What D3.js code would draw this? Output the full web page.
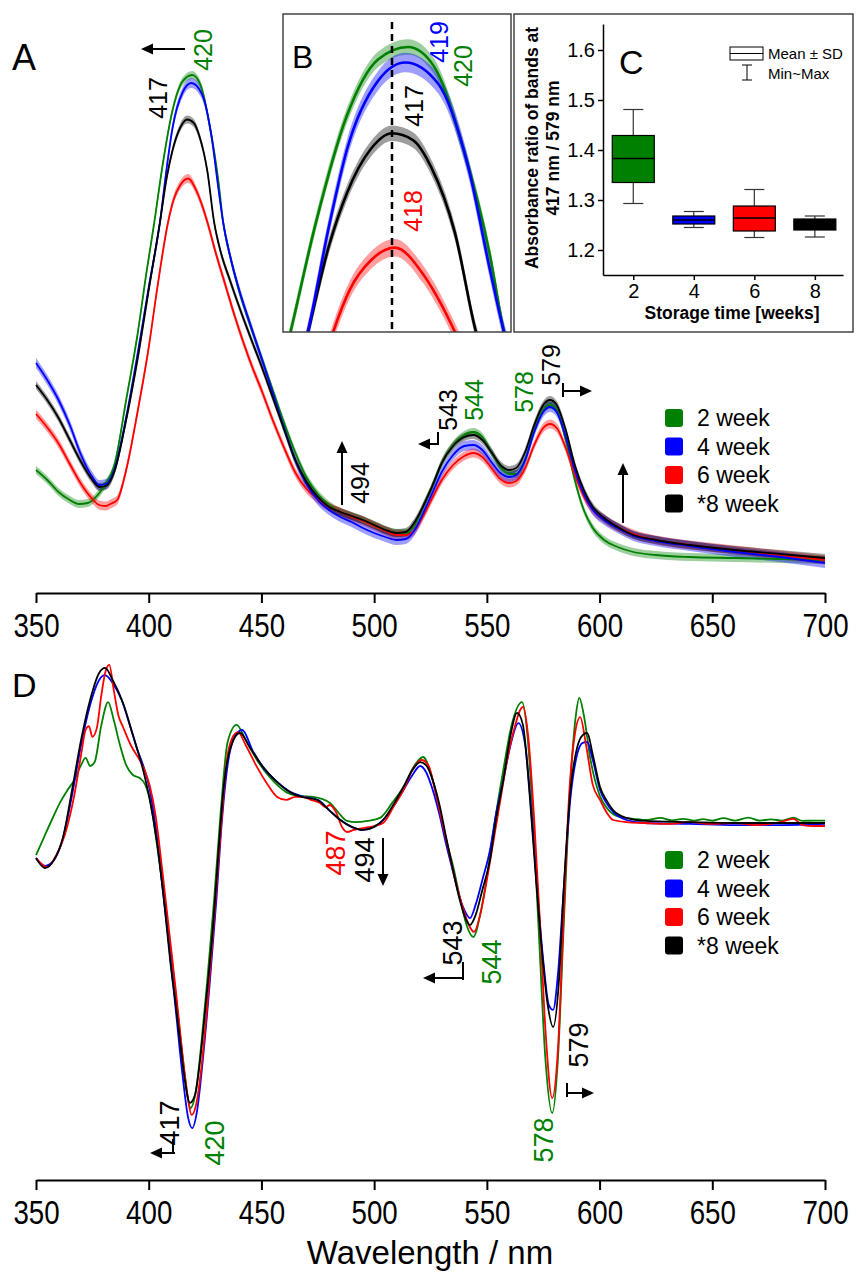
<!DOCTYPE html>
<html><head><meta charset="utf-8">
<script src="https://cdn.jsdelivr.net/npm/d3@7"></script>
<style>
body{margin:0;background:#fff}
svg{display:block}
text{font-family:'Liberation Sans',Arial,sans-serif}
</style>
</head><body>
<svg id="chart" width="856" height="1275"></svg>
<script>
// ---------- DATA ----------
const seriesNames = ["2 week","4 week","6 week","*8 week"];
const seriesColors = ["#008000","#0000ff","#ff0000","#000000"];
const bandColors = ["rgba(0,128,0,0.38)","rgba(0,0,255,0.38)","rgba(255,0,0,0.38)","rgba(0,0,0,0.38)"];
const xTicks = [350,400,450,500,550,600,650,700];
const xMinorTicks = [375,425,475,525,575,625,675];

// Panel A: mean absorbance spectra [wavelength nm, absorbance a.u.]
const a2wk = [[350,.260],[355,.240],[360,.216],[365,.200],[369,.192],[373,.194],[377,.208],[380,.226],[385,.274],[390,.400],[395,.530],[399,.655],[402.5,.756],[406,.865],[410.5,.978],[415,1.037],[419.3,1.050],[423,1.030],[427,.950],[431,.835],[433,.756],[436,.690],[440,.620],[445,.550],[450,.485],[455,.420],[460,.355],[465,.295],[470,.245],[475,.212],[480,.190],[485,.176],[490,.168],[495,.160],[500,.150],[505,.140],[510,.134],[514,.134],[518,.150],[522,.190],[526,.230],[530,.274],[535,.310],[540,.330],[544,.336],[548,.326],[552,.296],[556,.266],[560,.252],[563,.252],[567,.280],[571,.340],[575,.380],[578,.390],[581,.380],[585,.320],[589,.240],[593,.180],[597,.144],[602,.120],[608,.106],[615,.096],[625,.090],[640,.086],[660,.084],[680,.082],[700,.080]];
const a4wk = [[350,.474],[355,.440],[360,.400],[365,.350],[370,.290],[375,.246],[378,.230],[381,.232],[385,.264],[390,.365],[395,.490],[400,.625],[405,.756],[408,.865],[410.6,.945],[415,1.015],[418.9,1.034],[423.6,1.012],[427.9,.926],[431,.820],[433,.756],[436,.690],[440,.622],[445,.552],[450,.484],[455,.415],[460,.345],[465,.280],[470,.232],[475,.200],[480,.180],[485,.166],[490,.156],[495,.144],[500,.134],[505,.126],[510,.120],[514,.122],[518,.140],[522,.176],[526,.216],[530,.256],[535,.290],[540,.308],[544,.310],[548,.300],[552,.276],[556,.254],[560,.246],[563,.250],[567,.280],[571,.336],[575,.376],[578,.386],[581,.376],[585,.326],[589,.260],[593,.212],[597,.180],[602,.160],[608,.144],[615,.128],[625,.118],[640,.108],[660,.096],[680,.086],[700,.074]];
const a6wk = [[350,.372],[355,.345],[360,.313],[365,.272],[370,.232],[375,.202],[378,.190],[381,.188],[383,.192],[386,.200],[390,.260],[395,.375],[400,.505],[404,.630],[408.6,.756],[411,.800],[414,.830],[417.4,.843],[421.5,.815],[424,.785],[426,.756],[430,.690],[434,.630],[438,.570],[442,.515],[446,.465],[450,.420],[455,.360],[460,.305],[465,.255],[470,.222],[475,.202],[480,.186],[485,.176],[490,.166],[495,.158],[500,.148],[505,.138],[510,.130],[514,.130],[518,.140],[522,.170],[526,.206],[530,.240],[535,.270],[540,.288],[544,.294],[548,.286],[552,.264],[556,.242],[560,.234],[563,.238],[567,.264],[571,.310],[575,.344],[578,.352],[581,.344],[585,.304],[589,.250],[593,.208],[597,.180],[602,.162],[608,.146],[615,.132],[625,.120],[640,.110],[660,.100],[680,.090],[700,.080]];
const a8wk = [[350,.430],[355,.400],[360,.364],[365,.320],[370,.276],[375,.240],[378,.226],[381,.228],[385,.260],[390,.360],[395,.480],[400,.620],[405,.756],[408,.845],[410.6,.900],[414,.945],[417,.961],[420,.954],[422.6,.926],[426,.858],[429,.756],[432,.695],[436,.640],[440,.588],[445,.527],[450,.468],[455,.405],[460,.342],[465,.280],[470,.236],[475,.206],[480,.186],[485,.176],[490,.168],[495,.160],[500,.150],[505,.140],[510,.134],[514,.136],[518,.156],[522,.190],[526,.230],[530,.274],[535,.308],[540,.326],[544,.330],[548,.320],[552,.296],[556,.270],[560,.260],[563,.264],[567,.296],[571,.350],[575,.390],[578,.400],[581,.390],[585,.340],[589,.270],[593,.220],[597,.186],[602,.164],[608,.146],[615,.130],[625,.120],[640,.110],[660,.100],[680,.092],[700,.084]];
const sdA = [0.008, 0.010, 0.009, 0.008];

// Panel D: derivative spectra [wavelength nm, value a.u.]
const d2wk = [[350,-.107],[353,-.057],[357,.010],[360.6,.067],[364,.110],[367,.143],[370,.193],[372,.217],[374,.190],[376,.203],[379,.327],[382,.403],[384.5,.343],[387,.267],[390,.193],[393,.160],[396,.150],[398.5,.127],[401,.060],[404,-.090],[407,-.257],[410,-.440],[413,-.640],[416,-.840],[418.5,-.950],[421,-.890],[423.5,-.723],[426,-.523],[429,-.257],[432,.043],[435,.270],[439,.327],[443,.277],[448,.210],[454,.150],[461,.103],[467,.090],[473,.087],[480.4,.067],[485,.027],[488,.007],[492,.003],[497,.007],[502.6,.017],[508,.067],[513,.120],[518,.193],[521.7,.220],[525,.170],[529,.043],[532,-.057],[535,-.143],[538,-.247],[541,-.340],[544,-.380],[547,-.307],[551,-.130],[554,.027],[557.3,.177],[561,.327],[565.6,.403],[568,.293],[570.5,.010],[573,-.357],[576,-.790],[579,-.967],[581.5,-.790],[584,-.357],[587,.127],[589.5,.360],[591,.417],[593,.360],[596,.210],[600,.093],[604,.043],[609,.020],[615,.014],[621,.010],[627,.017],[632,.009],[637,.014],[642,.008],[646,.013],[650,.008],[655,.016],[660,.008],[666,.018],[671,.008],[676,.012],[681,.008],[686,.018],[690,.007],[695,.008],[700,.008]];
const d4wk = [[350,-.117],[354,-.143],[358,-.123],[362,-.050],[366,.093],[370,.260],[374,.393],[378,.477],[380.6,.493],[384,.467],[388,.410],[392,.317],[395,.243],[397.5,.193],[400,.127],[403,-.007],[406,-.207],[409,-.407],[412,-.623],[415,-.840],[417.5,-.983],[419.3,-1.017],[421.5,-.957],[424,-.790],[427,-.540],[430,-.257],[432.5,.010],[435,.193],[438.5,.293],[441.5,.310],[446,.243],[451,.183],[457,.137],[463,.103],[469,.087],[475,.077],[480,.043],[485,.010],[490,-.013],[495,-.023],[500,-.013],[504,.010],[509,.060],[513,.110],[517,.160],[520.4,.190],[523,.170],[526,.110],[529,.027],[532,-.073],[535,-.163],[538,-.250],[540.5,-.297],[542.5,-.317],[545,-.273],[548,-.190],[551.4,-.090],[554,.027],[557.3,.143],[560.5,.260],[564,.333],[567,.260],[569.5,.060],[572,-.190],[575,-.457],[577.5,-.607],[579.4,-.623],[581.5,-.507],[584,-.233],[587,.077],[590,.227],[592.5,.267],[594.5,.270],[597,.210],[600.2,.110],[603,.067],[606,.037],[612,.010],[620,0],[640,-.003],[660,-.007],[680,-.007],[700,-.003]];
const d6wk = [[350,-.117],[355,-.147],[359,-.107],[363.8,-.013],[367,.093],[370,.227],[372,.310],[373.5,.323],[375,.287],[377,.317],[379,.427],[381,.510],[382.5,.527],[384.5,.443],[386.5,.360],[388.6,.320],[392,.260],[396,.210],[398.5,.170],[400.6,.120],[403,.027],[406,-.157],[409,-.357],[412,-.557],[415,-.773],[417.5,-.923],[419,-.973],[421,-.940],[423.5,-.807],[426,-.607],[429,-.323],[432,-.023],[434.5,.200],[437,.283],[439.6,.303],[443,.260],[448,.187],[452,.137],[457,.087],[461,.077],[465,.087],[468.5,.087],[472,.077],[476,.067],[478.5,.053],[480.4,.060],[483,.037],[486,-.017],[488,-.030],[491,-.023],[495,-.017],[500,-.010],[504,0],[509,.060],[513,.110],[517,.177],[521,.210],[524,.193],[527,.110],[530,.010],[533,-.090],[536,-.190],[539,-.273],[542,-.340],[544.3,-.363],[547,-.307],[550,-.190],[553,-.057],[556,.077],[559,.210],[562,.310],[566,.387],[568.5,.277],[571,.010],[573.5,-.323],[576,-.690],[579,-.917],[581.5,-.757],[584,-.323],[586.5,.093],[589,.293],[591.4,.353],[594,.260],[597,.127],[600.2,.077],[603,.037],[606,.010],[612,.003],[620,0],[630,-.003],[640,.003],[650,-.003],[660,0],[670,-.007],[680,.003],[686,.014],[690,-.007],[695,-.010],[700,-.010]];
const d8wk = [[350,-.117],[354,-.150],[358,-.123],[362,-.047],[366,.110],[370,.277],[374,.410],[378,.500],[380.6,.517],[384,.477],[388.6,.400],[393,.293],[397.5,.177],[400.5,.077],[403.7,-.067],[407,-.273],[409.5,-.457],[412,-.607],[414,-.733],[416,-.857],[418.3,-.933],[420.5,-.907],[422.8,-.790],[425.5,-.590],[428.5,-.347],[431,-.090],[433,.100],[436,.243],[440.5,.300],[445,.250],[450.7,.187],[456,.143],[462.7,.103],[468,.087],[474.7,.077],[480,.043],[485,.010],[490,-.013],[495,-.023],[500,-.013],[504,.010],[509,.067],[513,.120],[517,.177],[520.4,.203],[523,.193],[526,.143],[529,.060],[532,-.050],[535,-.157],[538,-.257],[540.5,-.317],[542.5,-.340],[545,-.307],[548,-.223],[551.4,-.123],[554,.010],[557.3,.143],[560.5,.293],[563.4,.367],[566,.327],[569,.093],[571.5,-.157],[574,-.390],[577,-.607],[579.4,-.680],[582,-.523],[584,-.233],[587,.100],[590,.250],[592.5,.293],[594.5,.300],[597,.227],[600.2,.120],[603,.077],[606,.043],[612,.017],[620,.007],[640,.003],[660,0],[680,0],[700,0]];

// Panel C: absorbance ratio 417/579 nm
const weeks = [2,4,6,8];
const ratioMean = [1.383,1.260,1.264,1.250];
const ratioSdLow = [1.335,1.252,1.238,1.240];
const ratioSdHigh = [1.429,1.268,1.288,1.262];
const ratioMin = [1.293,1.245,1.225,1.226];
const ratioMax = [1.481,1.277,1.321,1.268];
const cTicks = [1.2,1.3,1.4,1.5,1.6];

// ---------- DRAW ----------
const svg = d3.select("#chart");
const A = [a2wk,a4wk,a6wk,a8wk];
const D = [d2wk,d4wk,d6wk,d8wk];
const drawOrder = [0,2,1,3];

const xA = d3.scaleLinear().domain([350,700]).range([36,825]);
const yA = d3.scaleLinear().domain([0,1.1]).range([600,50]);
const yD = d3.scaleLinear().domain([-1.19,0.6]).range([1180,643]);

function bottomAxis(y) {
  const g = svg.append("g").attr("transform",`translate(0,${y})`);
  g.call(d3.axisBottom(xA).tickValues(xMinorTicks).tickSize(6).tickSizeOuter(0).tickFormat(""));
  g.call(d3.axisBottom(xA).tickValues(xTicks).tickSize(10).tickSizeOuter(0).tickPadding(11).tickFormat(d3.format("d")));
  g.selectAll(".domain").attr("stroke","#000").attr("stroke-width",2);
  g.selectAll(".tick line").attr("stroke","#000").attr("stroke-width",2);
  g.selectAll(".tick text").attr("fill","#000").style("font-size","33px").attr("transform","scale(0.84,1)");
  return g;
}

function vtext(x,y,t,color,size){
  svg.append("text").attr("transform",`translate(${x},${y}) rotate(-90)`)
    .attr("text-anchor","middle").attr("dy","0.36em").attr("fill",color)
    .style("font-size",size+"px").text(t);
}
function arrow(x1,y1,x2,y2){
  const head=12,w=11,ang=Math.atan2(y2-y1,x2-x1);
  const bx=x2-head*Math.cos(ang), by=y2-head*Math.sin(ang);
  svg.append("line").attr("x1",x1).attr("y1",y1).attr("x2",bx).attr("y2",by).attr("stroke","#000").attr("stroke-width",2);
  const px=-Math.sin(ang)*w/2, py=Math.cos(ang)*w/2;
  svg.append("path").attr("d",`M${x2},${y2}L${bx+px},${by+py}L${bx-px},${by-py}Z`).attr("fill","#000");
}
function bar(x,y1,y2){
  svg.append("line").attr("x1",x).attr("x2",x).attr("y1",y1).attr("y2",y2).attr("stroke","#000").attr("stroke-width",2);
}
function legend(y0){
  seriesNames.forEach((n,i)=>{
    const y=y0+i*28.5;
    svg.append("rect").attr("x",665).attr("y",y-9).attr("width",18).attr("height",18).attr("rx",3).attr("fill",seriesColors[i]);
    svg.append("text").attr("x",697).attr("y",y).attr("dy","0.36em").style("font-size","23px").attr("fill","#000").text(n);
  });
}

// Panel A
const lineA = d3.line().x(d=>xA(d[0])).y(d=>yA(d[1])).curve(d3.curveMonotoneX);
drawOrder.forEach(i=>{
  const area = d3.area().x(d=>xA(d[0])).y0(d=>yA(d[1]-sdA[i])).y1(d=>yA(d[1]+sdA[i])).curve(d3.curveMonotoneX);
  svg.append("path").attr("d",area(A[i])).attr("fill",bandColors[i]);
});
drawOrder.forEach(i=>{
  svg.append("path").attr("d",lineA(A[i])).attr("fill","none").attr("stroke",seriesColors[i]).attr("stroke-width",1.8);
});
bottomAxis(593);
svg.append("text").attr("x",12).attr("y",70).style("font-size","36px").text("A");
legend(418);

// Panel A annotations
arrow(185,49,141,49);
vtext(203,50,"420","#008000",25);
vtext(158,98,"417","#000",25);
arrow(342,505,342,441);
vtext(360,483,"494","#000",25);
bar(438,432,445); arrow(438,444,418,444);
vtext(448,410,"543","#000",25);
vtext(474,400,"544","#008000",25);
vtext(524,392,"578","#008000",25);
vtext(551,365,"579","#000",25);
bar(563,383,397); arrow(563,391,592,391);
arrow(623,523,623,463);

// Inset B
const bx0=283,by0=14,bw=228,bh=318;
svg.append("rect").attr("x",bx0).attr("y",by0).attr("width",bw).attr("height",bh).attr("fill","#fff");
svg.append("clipPath").attr("id","clipB").append("rect").attr("x",bx0).attr("y",by0).attr("width",bw).attr("height",bh);
const xB = d3.scaleLinear().domain([401.43,434]).range([bx0,bx0+bw]);
const yB = d3.scaleLinear().domain([0.756,1.084]).range([by0+bh,by0]);
const gB = svg.append("g").attr("clip-path","url(#clipB)");
const lineB = d3.line().x(d=>xB(d[0])).y(d=>yB(d[1])).curve(d3.curveMonotoneX);
[0,2,3,1].forEach(i=>{
  const area = d3.area().x(d=>xB(d[0])).y0(d=>yB(d[1]-sdA[i])).y1(d=>yB(d[1]+sdA[i])).curve(d3.curveMonotoneX);
  gB.append("path").attr("d",area(A[i])).attr("fill",bandColors[i]);
});
[0,2,3,1].forEach(i=>{
  gB.append("path").attr("d",lineB(A[i])).attr("fill","none").attr("stroke",seriesColors[i]).attr("stroke-width",2.6);
});
gB.append("line").attr("x1",xB(417)).attr("x2",xB(417)).attr("y1",by0+8).attr("y2",by0+bh).attr("stroke","#000").attr("stroke-width",2.5).attr("stroke-dasharray","7,5");
svg.append("rect").attr("x",bx0).attr("y",by0).attr("width",bw).attr("height",bh).attr("fill","none").attr("stroke","#444").attr("stroke-width",1.5);
svg.append("text").attr("x",292).attr("y",68).style("font-size","32px").text("B");
vtext(439,42,"419","#0000ff",25);
vtext(463,66,"420","#008000",25);
vtext(414,106,"417","#000",25);
vtext(413,211,"418","#ff0000",25);

// Inset C
const cx0=514,cy0=14,cw=339,ch=318;
svg.append("rect").attr("x",cx0).attr("y",cy0).attr("width",cw).attr("height",ch).attr("fill","#fff").attr("stroke","#444").attr("stroke-width",1.5);
const xC = d3.scaleLinear().domain([1,8.93]).range([603,843]);
const yC = d3.scaleLinear().domain([1.15,1.652]).range([275,24]);
const gCy = svg.append("g").attr("transform","translate(603,0)")
  .call(d3.axisLeft(yC).tickValues(cTicks).tickSize(5).tickSizeOuter(0).tickPadding(3).tickFormat(d3.format(".1f")));
const gCx = svg.append("g").attr("transform","translate(0,275)")
  .call(d3.axisBottom(xC).tickValues(weeks).tickSize(5).tickSizeOuter(0).tickPadding(4).tickFormat(d3.format("d")));
[gCy,gCx].forEach(g=>{
  g.selectAll(".domain").attr("stroke","#000").attr("stroke-width",1.5);
  g.selectAll(".tick line").attr("stroke","#000").attr("stroke-width",1.5);
  g.selectAll(".tick text").attr("fill","#000").style("font-size","20px");
});
const boxW=42, capW=20;
weeks.forEach((w,i)=>{
  const x=xC(w);
  svg.append("line").attr("x1",x).attr("x2",x).attr("y1",yC(ratioMax[i])).attr("y2",yC(ratioMin[i])).attr("stroke","#333").attr("stroke-width",1.2);
  [ratioMax[i],ratioMin[i]].forEach(v=>svg.append("line").attr("x1",x-capW/2).attr("x2",x+capW/2).attr("y1",yC(v)).attr("y2",yC(v)).attr("stroke","#333").attr("stroke-width",1.2));
  svg.append("rect").attr("x",x-boxW/2).attr("y",yC(ratioSdHigh[i])).attr("width",boxW).attr("height",yC(ratioSdLow[i])-yC(ratioSdHigh[i])).attr("fill",seriesColors[i]).attr("stroke","#000").attr("stroke-width",1.2);
  svg.append("line").attr("x1",x-boxW/2).attr("x2",x+boxW/2).attr("y1",yC(ratioMean[i])).attr("y2",yC(ratioMean[i])).attr("stroke","#000").attr("stroke-width",1.5);
});
svg.append("text").attr("x",619).attr("y",74).style("font-size","34px").text("C");
svg.append("text").attr("transform","translate(532,148) rotate(-90)").attr("text-anchor","middle").attr("dy","0.36em").style("font-size","17.5px").style("font-weight","bold").text("Absorbance ratio of bands at");
svg.append("text").attr("transform","translate(553,148) rotate(-90)").attr("text-anchor","middle").attr("dy","0.36em").style("font-size","17.5px").style("font-weight","bold").text("417 nm / 579 nm");
svg.append("text").attr("x",732).attr("y",319).attr("text-anchor","middle").style("font-size","17.5px").style("font-weight","bold").text("Storage time [weeks]");
// legend C
svg.append("rect").attr("x",730).attr("y",47).attr("width",33).attr("height",13).attr("fill","#fff").attr("stroke","#000").attr("stroke-width",1);
svg.append("line").attr("x1",730).attr("x2",763).attr("y1",53.5).attr("y2",53.5).attr("stroke","#000").attr("stroke-width",1);
svg.append("line").attr("x1",747).attr("x2",747).attr("y1",65).attr("y2",80).attr("stroke","#000").attr("stroke-width",1);
svg.append("line").attr("x1",742).attr("x2",752).attr("y1",65).attr("y2",65).attr("stroke","#000").attr("stroke-width",1);
svg.append("line").attr("x1",742).attr("x2",752).attr("y1",80).attr("y2",80).attr("stroke","#000").attr("stroke-width",1);
svg.append("text").attr("x",768).attr("y",54).attr("dy","0.36em").style("font-size","15px").text("Mean ± SD");
svg.append("text").attr("x",768).attr("y",74).attr("dy","0.36em").style("font-size","15px").text("Min~Max");

// Panel D
const lineD = d3.line().x(d=>xA(d[0])).y(d=>yD(d[1])).curve(d3.curveMonotoneX);
[0,1,2,3].forEach(i=>{
  svg.append("path").attr("d",lineD(D[i])).attr("fill","none").attr("stroke",seriesColors[i]).attr("stroke-width",1.8);
});
bottomAxis(1180);
svg.append("text").attr("x",12).attr("y",697).style("font-size","34px").text("D");
svg.append("text").attr("x",430).attr("y",1264).attr("text-anchor","middle").style("font-size","33px").text("Wavelength / nm");
legend(860);

// Panel D annotations
vtext(335,853,"487","#ff0000",27);
vtext(364,860,"494","#000",27);
arrow(383,838,383,886);
vtext(169,1123,"417","#000",27);
bar(173,1139,1154); arrow(175,1153,150,1153);
vtext(214,1143,"420","#008000",27);
vtext(452,943,"543","#000",27);
bar(463,962,980); arrow(463,978,423,978);
vtext(491,962,"544","#008000",27);
vtext(543,1140,"578","#008000",27);
vtext(578,1045,"579","#000",27);
bar(567,1083,1097); arrow(567,1093,594,1093);
</script>
</body></html>
